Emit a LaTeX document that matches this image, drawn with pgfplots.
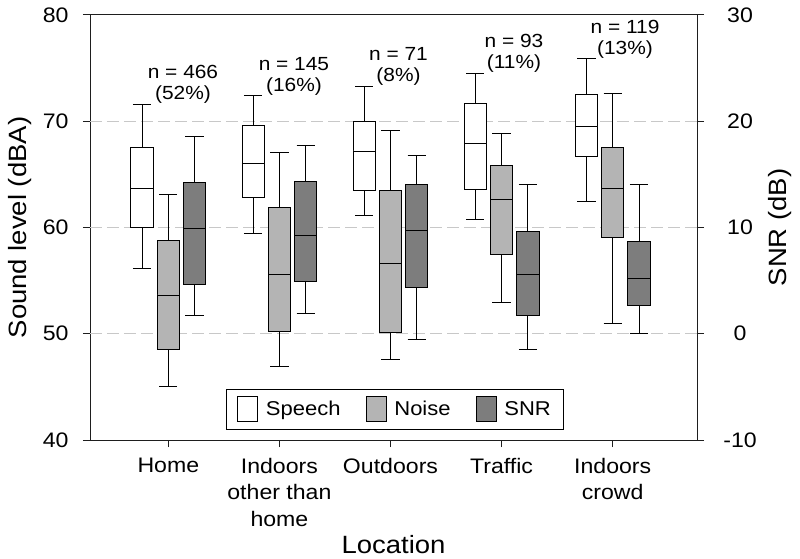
\documentclass[border=0pt]{standalone}
\usepackage{fontspec}
\setmainfont{Liberation Sans}[FakeStretch=1.1]
\usepackage{pgfplots}
\pgfplotsset{compat=1.18}
\usepgfplotslibrary{statistics}
\definecolor{noisecol}{RGB}{180,180,180}
\definecolor{snrcol}{RGB}{125,125,125}
\definecolor{gridcol}{RGB}{200,200,200}
\definecolor{axcol}{RGB}{30,30,30}
\pgfplotsset{
  bx/.style n args={6}{boxplot prepared={draw position=#1, lower whisker=#2, lower quartile=#3, median=#4, upper quartile=#5, upper whisker=#6, box extend=0.2, whisker extend=0.165, draw direction=y}, draw=black, line width=0.9pt, forget plot},
  common/.style={scale only axis, width=607bp, height=425bp, at={(0,0)}, anchor=south west,
    xmin=0.295, xmax=5.759, tick align=outside, major tick length=7bp,
    axis line style={axcol, line width=1pt}, tick style={axcol, line width=1pt},
    /pgf/number format/assume math mode=true,
    tick label style={font=\fontsize{21bp}{26.5bp}\selectfont},
    label style={font=\fontsize{25bp}{30bp}\selectfont}},
}
\begin{document}
\begin{tikzpicture}
\path[use as bounding box] (-90bp,-119bp) rectangle (710bp,440bp);
\begin{axis}[common,
  ymin=40, ymax=80, ytick={40,50,60,70,80},
  xtick={1,2,3,4,5},
  xticklabels={Home,{Indoors\\other than\\home},Outdoors,Traffic,{Indoors\\crowd}},
  xtick pos=bottom, ytick pos=left,
  extra y ticks={50,60,70}, extra y tick labels={},
  extra y tick style={ymajorgrids=true, major tick length=0pt},
  grid style={gridcol, dash pattern=on 12bp off 5bp, line width=0.8pt},
  xticklabel style={align=center, anchor=north, yshift=-7.5bp},
  yticklabel style={xshift=-11bp},
  xlabel={Location}, ylabel={Sound level (dBA)},
  xlabel style={at={(axis description cs:0.5,-0.2659)}, anchor=base},
  ylabel style={at={(axis description cs:-0.1153,0.5)}, anchor=center, rotate=0},
]
% Speech (white), Noise (light grey)
\addplot[bx={0.763}{56.10}{60.05}{63.70}{67.50}{71.60}, fill=white] coordinates {};
\addplot[bx={1.000}{45.08}{48.56}{53.65}{58.76}{63.15}, fill=noisecol] coordinates {};
\addplot[bx={1.763}{59.48}{62.84}{66.04}{69.58}{72.47}, fill=white] coordinates {};
\addplot[bx={2.000}{46.90}{50.23}{55.62}{61.87}{67.04}, fill=noisecol] coordinates {};
\addplot[bx={2.763}{61.14}{63.44}{67.20}{69.96}{73.25}, fill=white] coordinates {};
\addplot[bx={3.000}{47.56}{50.16}{56.63}{63.53}{69.11}, fill=noisecol] coordinates {};
\addplot[bx={3.763}{60.74}{63.62}{67.92}{71.69}{74.48}, fill=white] coordinates {};
\addplot[bx={4.000}{52.93}{57.51}{62.68}{65.88}{68.83}, fill=noisecol] coordinates {};
\addplot[bx={4.763}{62.43}{66.67}{69.49}{72.50}{75.95}, fill=white] coordinates {};
\addplot[bx={5.000}{51.01}{59.08}{63.69}{67.58}{72.63}, fill=noisecol] coordinates {};
\begin{scope}[every node/.style={font=\fontsize{19bp}{21bp}\selectfont, align=center}]
\node at (axis cs:1.132,73.51) {n = 466\\(52\%)};
\node at (axis cs:2.131,74.26) {n = 145\\(16\%)};
\node at (axis cs:3.072,75.20) {n = 71\\(8\%)};
\node at (axis cs:4.112,76.42) {n = 93\\(11\%)};
\node at (axis cs:5.111,77.69) {n = 119\\(13\%)};
\end{scope}
\end{axis}
\begin{axis}[common,
  ymin=-10, ymax=30, ytick={-10,0,10,20,30},
  axis x line=none, axis y line*=right,
  yticklabel style={anchor=center, xshift=36bp},
  ylabel={SNR (dB)},
  ylabel style={at={(axis description cs:1.1367,0.5)}, anchor=center, rotate=0},
  legend image code/.code={\draw[#1, line width=0.8pt] (0bp,-12.5bp) rectangle (20bp,12.5bp);},
  legend columns=3,
  legend style={at={(0.5025,0.072)}, anchor=center, draw=black, line width=0.8pt,
    font=\fontsize{20bp}{24bp}\selectfont, inner xsep=11bp, inner ysep=7.5bp,
    nodes={inner xsep=2bp, inner ysep=2bp},
    /tikz/every odd column/.append style={column sep=6bp},
    /tikz/every even column/.append style={column sep=23bp}},
]
\addlegendimage{draw=black, fill=white}
\addlegendentry{Speech}
\addlegendimage{draw=black, fill=noisecol}
\addlegendentry{Noise}
\addlegendimage{draw=black, fill=snrcol}
\addlegendentry{SNR}
% SNR (dark grey), in dB on the right axis
\addplot[bx={1.237}{1.73}{4.68}{9.89}{14.28}{18.55}, fill=snrcol] coordinates {};
\addplot[bx={2.237}{1.92}{4.90}{9.26}{14.35}{17.76}, fill=snrcol] coordinates {};
\addplot[bx={3.237}{-0.53}{4.37}{9.76}{14.06}{16.76}, fill=snrcol] coordinates {};
\addplot[bx={4.237}{-1.47}{1.76}{5.56}{9.67}{14.03}, fill=snrcol] coordinates {};
\addplot[bx={5.237}{0.04}{2.64}{5.25}{8.73}{14.03}, fill=snrcol] coordinates {};
\end{axis}
\end{tikzpicture}
\end{document}
